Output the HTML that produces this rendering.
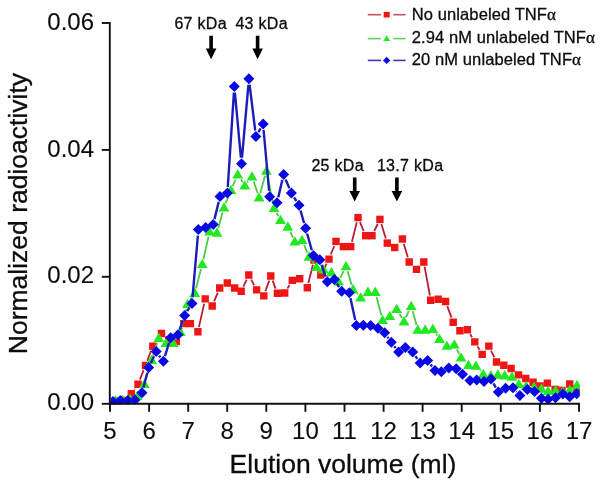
<!DOCTYPE html>
<html><head><meta charset="utf-8"><title>Elution profile</title><style>
html,body{margin:0;padding:0;background:#fff;width:601px;height:484px;overflow:hidden;}
svg{display:block;will-change:transform;}
text{font-family:"Liberation Sans",sans-serif;fill:#0c0c0c;stroke:#0c0c0c;stroke-width:0.3px;}
</style></head><body>
<svg width="601" height="484" viewBox="0 0 601 484">
<defs><clipPath id="pc"><rect x="110.6" y="0" width="469.2" height="404.6"/></clipPath>
</defs>
<rect width="601" height="484" fill="#fff"/>
<g clip-path="url(#pc)">
<path d="M134.5,389.1L134.8,388.7M139.9,379.6L143.6,370.1M147.3,360.9L151.0,350.8M155.9,341.7L158.4,338.0M178.2,336.9L181.9,328.2M198.9,327.1L204.2,303.6M214.1,301.4L217.8,292.6M243.3,286.7L246.7,279.6M251.2,279.6L254.2,285.3M265.4,291.3L269.2,280.6M272.6,280.6L275.6,288.6M287.4,288.4L289.6,285.0M303.5,283.2L303.5,283.2M308.4,283.0L312.9,264.7M316.1,264.6L318.7,270.4M323.2,270.4L326.6,263.7M330.8,254.5L334.2,246.0M351.9,241.9L356.8,222.3M360.0,222.2L363.7,231.1M374.2,231.1L377.7,224.0M381.4,224.1L385.8,238.4M403.8,243.7L407.8,257.3M424.6,266.7L429.9,295.5M447.3,306.1L451.5,317.6M470.2,334.3L472.0,337.3M477.5,346.5L479.5,349.8M491.0,350.7L494.3,357.4" fill="none" stroke="#b81e34" stroke-width="1.8" stroke-linecap="butt"/>
<g fill="#ee1515">
<polygon points="112.9,397.3 120.3,397.3 120.3,404.7 112.9,404.7"/>
<polygon points="120.2,396.8 127.6,396.8 127.6,404.2 120.2,404.2"/>
<polygon points="127.6,389.9 135.0,389.9 135.0,397.3 127.6,397.3"/>
<polygon points="134.3,380.5 141.7,380.5 141.7,387.9 134.3,387.9"/>
<polygon points="141.8,361.8 149.2,361.8 149.2,369.2 141.8,369.2"/>
<polygon points="149.1,342.5 156.5,342.5 156.5,349.9 149.1,349.9"/>
<polygon points="157.8,329.8 165.2,329.8 165.2,337.2 157.8,337.2"/>
<polygon points="165.1,336.3 172.5,336.3 172.5,343.7 165.1,343.7"/>
<polygon points="172.6,337.8 180.0,337.8 180.0,345.2 172.6,345.2"/>
<polygon points="180.1,319.9 187.5,319.9 187.5,327.3 180.1,327.3"/>
<polygon points="186.7,319.9 194.1,319.9 194.1,327.3 186.7,327.3"/>
<polygon points="194.2,328.1 201.6,328.1 201.6,335.5 194.2,335.5"/>
<polygon points="201.5,295.2 208.9,295.2 208.9,302.6 201.5,302.6"/>
<polygon points="208.5,302.3 215.9,302.3 215.9,309.7 208.5,309.7"/>
<polygon points="216.0,284.3 223.4,284.3 223.4,291.7 216.0,291.7"/>
<polygon points="223.6,279.3 231.0,279.3 231.0,286.7 223.6,286.7"/>
<polygon points="230.9,284.3 238.3,284.3 238.3,291.7 230.9,291.7"/>
<polygon points="237.5,287.6 244.9,287.6 244.9,295.0 237.5,295.0"/>
<polygon points="245.1,271.3 252.5,271.3 252.5,278.7 245.1,278.7"/>
<polygon points="252.9,286.2 260.3,286.2 260.3,293.6 252.9,293.6"/>
<polygon points="260.1,292.2 267.5,292.2 267.5,299.6 260.1,299.6"/>
<polygon points="267.1,272.3 274.5,272.3 274.5,279.7 267.1,279.7"/>
<polygon points="273.7,289.5 281.1,289.5 281.1,296.9 273.7,296.9"/>
<polygon points="281.0,289.3 288.4,289.3 288.4,296.7 281.0,296.7"/>
<polygon points="288.6,276.7 296.0,276.7 296.0,284.1 288.6,284.1"/>
<polygon points="296.0,275.0 303.4,275.0 303.4,282.4 296.0,282.4"/>
<polygon points="303.6,284.0 311.0,284.0 311.0,291.4 303.6,291.4"/>
<polygon points="310.3,256.3 317.7,256.3 317.7,263.7 310.3,263.7"/>
<polygon points="317.1,271.3 324.5,271.3 324.5,278.7 317.1,278.7"/>
<polygon points="325.3,255.4 332.7,255.4 332.7,262.8 325.3,262.8"/>
<polygon points="332.3,237.7 339.7,237.7 339.7,245.1 332.3,245.1"/>
<polygon points="339.7,242.9 347.1,242.9 347.1,250.3 339.7,250.3"/>
<polygon points="347.0,242.9 354.4,242.9 354.4,250.3 347.0,250.3"/>
<polygon points="354.3,213.9 361.7,213.9 361.7,221.3 354.3,221.3"/>
<polygon points="362.0,232.0 369.4,232.0 369.4,239.4 362.0,239.4"/>
<polygon points="368.3,232.0 375.7,232.0 375.7,239.4 368.3,239.4"/>
<polygon points="376.2,215.7 383.6,215.7 383.6,223.1 376.2,223.1"/>
<polygon points="383.6,239.4 391.0,239.4 391.0,246.8 383.6,246.8"/>
<polygon points="391.0,243.8 398.4,243.8 398.4,251.2 391.0,251.2"/>
<polygon points="398.7,235.3 406.1,235.3 406.1,242.7 398.7,242.7"/>
<polygon points="405.5,258.3 412.9,258.3 412.9,265.7 405.5,265.7"/>
<polygon points="412.8,265.7 420.2,265.7 420.2,273.1 412.8,273.1"/>
<polygon points="420.1,258.3 427.5,258.3 427.5,265.7 420.1,265.7"/>
<polygon points="427.0,296.5 434.4,296.5 434.4,303.9 427.0,303.9"/>
<polygon points="434.5,295.5 441.9,295.5 441.9,302.9 434.5,302.9"/>
<polygon points="441.9,297.8 449.3,297.8 449.3,305.2 441.9,305.2"/>
<polygon points="449.5,318.5 456.9,318.5 456.9,325.9 449.5,325.9"/>
<polygon points="456.2,327.1 463.6,327.1 463.6,334.5 456.2,334.5"/>
<polygon points="463.7,326.0 471.1,326.0 471.1,333.4 463.7,333.4"/>
<polygon points="471.1,338.2 478.5,338.2 478.5,345.6 471.1,345.6"/>
<polygon points="478.5,350.7 485.9,350.7 485.9,358.1 478.5,358.1"/>
<polygon points="485.1,342.4 492.5,342.4 492.5,349.8 485.1,349.8"/>
<polygon points="492.8,358.3 500.2,358.3 500.2,365.7 492.8,365.7"/>
<polygon points="500.1,361.5 507.5,361.5 507.5,368.9 500.1,368.9"/>
<polygon points="507.4,364.8 514.8,364.8 514.8,372.2 507.4,372.2"/>
<polygon points="514.8,371.2 522.2,371.2 522.2,378.6 514.8,378.6"/>
<polygon points="522.1,374.8 529.5,374.8 529.5,382.2 522.1,382.2"/>
<polygon points="529.4,378.5 536.8,378.5 536.8,385.9 529.4,385.9"/>
<polygon points="536.4,382.2 543.8,382.2 543.8,389.6 536.4,389.6"/>
<polygon points="543.7,379.4 551.1,379.4 551.1,386.8 543.7,386.8"/>
<polygon points="551.4,385.8 558.8,385.8 558.8,393.2 551.4,393.2"/>
<polygon points="558.3,386.7 565.7,386.7 565.7,394.1 558.3,394.1"/>
<polygon points="566.0,380.3 573.4,380.3 573.4,387.7 566.0,387.7"/>
<polygon points="573.3,385.3 580.7,385.3 580.7,392.7 573.3,392.7"/>
</g>
<path d="M139.3,392.6L141.4,389.0M145.7,379.6L150.1,365.1M153.0,355.7L157.1,343.1M175.4,339.7L177.2,336.9M181.6,327.4L186.3,309.1M189.8,300.7L191.6,297.8M196.0,288.3L201.0,269.1M203.4,259.2L208.5,236.6M218.3,228.1L222.6,212.6M225.6,203.4L229.0,195.0M232.7,186.1L235.5,179.5M240.9,179.4L242.6,182.2M247.2,182.5L248.1,181.4M253.7,181.5L257.7,193.2M260.3,192.9L265.0,175.8M267.4,175.8L273.0,203.1M276.7,213.0L278.5,216.4M290.2,231.6L293.0,237.7M304.1,245.0L307.3,252.6M312.5,261.5L314.2,263.8M335.3,277.3L336.2,278.5M340.4,277.7L343.6,271.2M347.6,271.3L351.7,284.9M357.6,294.1L358.1,294.7M376.6,297.0L381.4,315.4M399.6,314.0L401.9,317.8M405.8,317.5L408.8,311.0M412.6,311.1L416.5,325.1M436.1,333.8L437.3,335.7M456.9,349.5L459.1,353.8M465.8,362.3L465.9,362.4M480.2,370.5L480.8,371.2" fill="none" stroke="#46cc46" stroke-width="1.8" stroke-linecap="butt"/>
<g fill="#22e822">
<polygon points="115.6,395.2 121.0,404.6 110.2,404.6"/>
<polygon points="122.8,394.7 128.2,404.1 117.4,404.1"/>
<polygon points="130.0,393.7 135.4,403.1 124.6,403.1"/>
<polygon points="137.2,390.7 142.6,400.1 131.8,400.1"/>
<polygon points="144.4,378.7 149.8,388.1 139.0,388.1"/>
<polygon points="151.6,354.7 157.0,364.1 146.2,364.1"/>
<polygon points="158.8,332.7 164.2,342.1 153.4,342.1"/>
<polygon points="166.0,337.7 171.4,347.1 160.6,347.1"/>
<polygon points="173.2,337.7 178.6,347.1 167.8,347.1"/>
<polygon points="180.4,326.7 185.8,336.1 175.0,336.1"/>
<polygon points="187.6,298.7 193.0,308.1 182.2,308.1"/>
<polygon points="194.8,287.6 200.2,297.0 189.4,297.0"/>
<polygon points="202.3,258.7 207.7,268.1 196.9,268.1"/>
<polygon points="209.6,226.2 215.0,235.6 204.2,235.6"/>
<polygon points="217.0,227.3 222.4,236.7 211.6,236.7"/>
<polygon points="224.0,202.2 229.4,211.6 218.6,211.6"/>
<polygon points="231.0,184.7 236.4,194.1 225.6,194.1"/>
<polygon points="237.7,169.2 243.1,178.6 232.3,178.6"/>
<polygon points="244.8,180.2 250.2,189.6 239.4,189.6"/>
<polygon points="252.0,171.2 257.4,180.6 246.6,180.6"/>
<polygon points="259.1,192.2 264.5,201.6 253.7,201.6"/>
<polygon points="266.4,165.4 271.8,174.8 261.0,174.8"/>
<polygon points="274.0,202.7 279.4,212.1 268.6,212.1"/>
<polygon points="280.5,214.7 285.9,224.1 275.1,224.1"/>
<polygon points="287.8,221.3 293.2,230.7 282.4,230.7"/>
<polygon points="294.8,236.2 300.2,245.6 289.4,245.6"/>
<polygon points="302.0,234.7 307.4,244.1 296.6,244.1"/>
<polygon points="309.0,251.3 314.4,260.7 303.6,260.7"/>
<polygon points="316.5,261.7 321.9,271.1 311.1,271.1"/>
<polygon points="323.5,264.2 328.9,273.6 318.1,273.6"/>
<polygon points="331.4,267.1 336.8,276.5 326.0,276.5"/>
<polygon points="338.6,276.2 344.0,285.6 333.2,285.6"/>
<polygon points="346.0,260.9 351.4,270.3 340.6,270.3"/>
<polygon points="353.1,284.0 358.5,293.4 347.7,293.4"/>
<polygon points="360.7,292.2 366.1,301.6 355.3,301.6"/>
<polygon points="368.0,286.6 373.4,296.0 362.6,296.0"/>
<polygon points="375.3,286.6 380.7,296.0 369.9,296.0"/>
<polygon points="382.6,314.7 388.0,324.1 377.2,324.1"/>
<polygon points="389.8,310.7 395.2,320.1 384.4,320.1"/>
<polygon points="396.7,303.7 402.1,313.1 391.3,313.1"/>
<polygon points="404.0,316.0 409.4,325.4 398.6,325.4"/>
<polygon points="411.2,300.7 416.6,310.1 405.8,310.1"/>
<polygon points="417.8,324.3 423.2,333.7 412.4,333.7"/>
<polygon points="425.2,324.3 430.6,333.7 419.8,333.7"/>
<polygon points="432.8,323.6 438.2,333.0 427.4,333.0"/>
<polygon points="439.5,333.7 444.9,343.1 434.1,343.1"/>
<polygon points="446.9,340.4 452.3,349.8 441.5,349.8"/>
<polygon points="454.3,339.2 459.7,348.6 448.9,348.6"/>
<polygon points="461.0,352.2 466.4,361.6 455.6,361.6"/>
<polygon points="468.5,359.7 473.9,369.1 463.1,369.1"/>
<polygon points="475.9,360.4 481.3,369.8 470.5,369.8"/>
<polygon points="483.3,368.7 488.7,378.1 477.9,378.1"/>
<polygon points="490.8,370.1 496.2,379.5 485.4,379.5"/>
<polygon points="497.8,369.3 503.2,378.7 492.4,378.7"/>
<polygon points="504.7,370.1 510.1,379.5 499.3,379.5"/>
<polygon points="512.0,371.4 517.4,380.8 506.6,380.8"/>
<polygon points="518.8,378.7 524.2,388.1 513.4,388.1"/>
<polygon points="526.2,380.7 531.6,390.1 520.8,390.1"/>
<polygon points="534.0,381.5 539.4,390.9 528.6,390.9"/>
<polygon points="541.4,383.3 546.8,392.7 536.0,392.7"/>
<polygon points="548.1,385.7 553.5,395.1 542.7,395.1"/>
<polygon points="555.5,385.0 560.9,394.4 550.1,394.4"/>
<polygon points="562.8,386.2 568.2,395.6 557.4,395.6"/>
<polygon points="569.7,384.7 575.1,394.1 564.3,394.1"/>
<polygon points="577.0,379.7 582.4,389.1 571.6,389.1"/>
</g>
<path d="M138.4,396.5L138.6,396.3M143.4,387.5L147.3,372.8M150.9,362.9L154.0,356.2M159.1,355.6L160.5,357.3M165.0,356.1L169.0,342.9M179.7,329.7L182.9,320.5M187.2,311.1L189.4,307.7M192.5,297.3L197.9,235.6M214.5,219.1L218.7,201.9M227.8,186.8L233.9,92.7M234.9,92.5L240.9,157.7M242.0,157.6L248.4,84.9M249.6,84.7L255.2,130.5M258.4,132.1L260.6,128.3M263.6,130.0L269.1,190.8M278.3,197.3L282.3,180.0M285.6,179.4L289.4,188.2M294.0,197.3L296.4,201.0M300.5,210.5L304.1,223.1M307.1,233.5L311.8,250.3M321.5,264.8L325.6,276.7M337.0,283.7L339.1,287.1M350.5,298.2L355.2,320.1M387.5,336.8L388.4,338.3M394.3,346.2L395.6,348.1M415.5,356.1L417.3,358.9M430.5,364.5L432.1,366.6M493.5,383.4L495.8,387.6M516.2,391.4L516.7,391.8" fill="none" stroke="#1c1cb8" stroke-width="2.4" stroke-linecap="butt"/>
<g fill="#0808e4">
<polygon points="113.0,396.0 118.5,401.5 113.0,407.0 107.5,401.5"/>
<polygon points="120.4,395.0 125.9,400.5 120.4,406.0 114.9,400.5"/>
<polygon points="127.8,395.0 133.3,400.5 127.8,406.0 122.3,400.5"/>
<polygon points="135.0,394.5 140.5,400.0 135.0,405.5 129.5,400.0"/>
<polygon points="142.0,387.3 147.5,392.8 142.0,398.3 136.5,392.8"/>
<polygon points="148.7,362.0 154.2,367.5 148.7,373.0 143.2,367.5"/>
<polygon points="156.2,346.1 161.7,351.6 156.2,357.1 150.7,351.6"/>
<polygon points="163.4,355.8 168.9,361.3 163.4,366.8 157.9,361.3"/>
<polygon points="170.6,332.2 176.1,337.7 170.6,343.2 165.1,337.7"/>
<polygon points="178.0,329.3 183.5,334.8 178.0,340.3 172.5,334.8"/>
<polygon points="184.6,309.9 190.1,315.4 184.6,320.9 179.1,315.4"/>
<polygon points="192.0,297.9 197.5,303.4 192.0,308.9 186.5,303.4"/>
<polygon points="198.4,224.0 203.9,229.5 198.4,235.0 192.9,229.5"/>
<polygon points="205.7,222.0 211.2,227.5 205.7,233.0 200.2,227.5"/>
<polygon points="213.2,219.0 218.7,224.5 213.2,230.0 207.7,224.5"/>
<polygon points="220.0,191.0 225.5,196.5 220.0,202.0 214.5,196.5"/>
<polygon points="227.4,187.5 232.9,193.0 227.4,198.5 221.9,193.0"/>
<polygon points="234.3,81.0 239.8,86.5 234.3,92.0 228.8,86.5"/>
<polygon points="241.5,158.2 247.0,163.7 241.5,169.2 236.0,163.7"/>
<polygon points="248.9,73.3 254.4,78.8 248.9,84.3 243.4,78.8"/>
<polygon points="255.9,130.9 261.4,136.4 255.9,141.9 250.4,136.4"/>
<polygon points="263.1,118.5 268.6,124.0 263.1,129.5 257.6,124.0"/>
<polygon points="269.6,191.3 275.1,196.8 269.6,202.3 264.1,196.8"/>
<polygon points="277.0,197.2 282.5,202.7 277.0,208.2 271.5,202.7"/>
<polygon points="283.6,169.1 289.1,174.6 283.6,180.1 278.1,174.6"/>
<polygon points="291.4,187.5 296.9,193.0 291.4,198.5 285.9,193.0"/>
<polygon points="299.0,199.8 304.5,205.3 299.0,210.8 293.5,205.3"/>
<polygon points="305.6,222.8 311.1,228.3 305.6,233.8 300.1,228.3"/>
<polygon points="313.3,250.0 318.8,255.5 313.3,261.0 307.8,255.5"/>
<polygon points="319.8,254.2 325.3,259.7 319.8,265.2 314.3,259.7"/>
<polygon points="327.3,276.3 332.8,281.8 327.3,287.3 321.8,281.8"/>
<polygon points="334.4,274.0 339.9,279.5 334.4,285.0 328.9,279.5"/>
<polygon points="341.7,285.8 347.2,291.3 341.7,296.8 336.2,291.3"/>
<polygon points="349.3,287.2 354.8,292.7 349.3,298.2 343.8,292.7"/>
<polygon points="356.4,320.1 361.9,325.6 356.4,331.1 350.9,325.6"/>
<polygon points="363.3,319.7 368.8,325.2 363.3,330.7 357.8,325.2"/>
<polygon points="370.6,320.1 376.1,325.6 370.6,331.1 365.1,325.6"/>
<polygon points="377.9,322.8 383.4,328.3 377.9,333.8 372.4,328.3"/>
<polygon points="384.6,327.3 390.1,332.8 384.6,338.3 379.1,332.8"/>
<polygon points="391.3,336.8 396.8,342.3 391.3,347.8 385.8,342.3"/>
<polygon points="398.6,346.5 404.1,352.0 398.6,357.5 393.1,352.0"/>
<polygon points="405.3,342.0 410.8,347.5 405.3,353.0 399.8,347.5"/>
<polygon points="412.7,346.5 418.2,352.0 412.7,357.5 407.2,352.0"/>
<polygon points="420.1,357.5 425.6,363.0 420.1,368.5 414.6,363.0"/>
<polygon points="427.6,355.0 433.1,360.5 427.6,366.0 422.1,360.5"/>
<polygon points="435.0,365.1 440.5,370.6 435.0,376.1 429.5,370.6"/>
<polygon points="441.3,366.2 446.8,371.7 441.3,377.2 435.8,371.7"/>
<polygon points="448.8,362.5 454.3,368.0 448.8,373.5 443.3,368.0"/>
<polygon points="456.2,363.2 461.7,368.7 456.2,374.2 450.7,368.7"/>
<polygon points="462.5,368.8 468.0,374.3 462.5,379.8 457.0,374.3"/>
<polygon points="470.0,375.1 475.5,380.6 470.0,386.1 464.5,380.6"/>
<polygon points="476.7,374.5 482.2,380.0 476.7,385.5 471.2,380.0"/>
<polygon points="484.0,376.0 489.5,381.5 484.0,387.0 478.5,381.5"/>
<polygon points="491.0,373.5 496.5,379.0 491.0,384.5 485.5,379.0"/>
<polygon points="498.3,386.5 503.8,392.0 498.3,397.5 492.8,392.0"/>
<polygon points="505.6,382.7 511.1,388.2 505.6,393.7 500.1,388.2"/>
<polygon points="513.0,382.2 518.5,387.7 513.0,393.2 507.5,387.7"/>
<polygon points="519.9,390.0 525.4,395.5 519.9,401.0 514.4,395.5"/>
<polygon points="527.3,384.0 532.8,389.5 527.3,395.0 521.8,389.5"/>
<polygon points="534.6,385.9 540.1,391.4 534.6,396.9 529.1,391.4"/>
<polygon points="541.4,392.8 546.9,398.3 541.4,403.8 535.9,398.3"/>
<polygon points="548.1,393.8 553.6,399.3 548.1,404.8 542.6,399.3"/>
<polygon points="555.5,392.3 561.0,397.8 555.5,403.3 550.0,397.8"/>
<polygon points="562.8,388.6 568.3,394.1 562.8,399.6 557.3,394.1"/>
<polygon points="569.7,391.3 575.2,396.8 569.7,402.3 564.2,396.8"/>
<polygon points="576.7,388.2 582.2,393.7 576.7,399.2 571.2,393.7"/>
</g>
</g>
<g stroke="#111" stroke-width="1.9" fill="none">
<line x1="109.8" y1="22.1" x2="109.8" y2="404.7"/>
<line x1="108.89999999999999" y1="403.8" x2="579.9" y2="403.8"/>
<line x1="101.8" y1="23.0" x2="109.8" y2="23.0"/>
<line x1="101.8" y1="149.9" x2="109.8" y2="149.9"/>
<line x1="101.8" y1="276.8" x2="109.8" y2="276.8"/>
<line x1="101.8" y1="403.8" x2="109.8" y2="403.8"/>
<line x1="110.0" y1="403.8" x2="110.0" y2="411.8"/>
<line x1="149.1" y1="403.8" x2="149.1" y2="411.8"/>
<line x1="188.2" y1="403.8" x2="188.2" y2="411.8"/>
<line x1="227.2" y1="403.8" x2="227.2" y2="411.8"/>
<line x1="266.3" y1="403.8" x2="266.3" y2="411.8"/>
<line x1="305.4" y1="403.8" x2="305.4" y2="411.8"/>
<line x1="344.5" y1="403.8" x2="344.5" y2="411.8"/>
<line x1="383.6" y1="403.8" x2="383.6" y2="411.8"/>
<line x1="422.6" y1="403.8" x2="422.6" y2="411.8"/>
<line x1="461.7" y1="403.8" x2="461.7" y2="411.8"/>
<line x1="500.8" y1="403.8" x2="500.8" y2="411.8"/>
<line x1="539.9" y1="403.8" x2="539.9" y2="411.8"/>
<line x1="579.0" y1="403.8" x2="579.0" y2="411.8"/>
</g>
<text x="94" y="29.6" font-size="24" text-anchor="end" style="stroke-width:0.1px">0.06</text>
<text x="94" y="156.5" font-size="24" text-anchor="end" style="stroke-width:0.1px">0.04</text>
<text x="94" y="283.4" font-size="24" text-anchor="end" style="stroke-width:0.1px">0.02</text>
<text x="94" y="410.4" font-size="24" text-anchor="end" style="stroke-width:0.1px">0.00</text>
<text x="110.0" y="439" font-size="24" text-anchor="middle" style="stroke-width:0.1px">5</text>
<text x="149.1" y="439" font-size="24" text-anchor="middle" style="stroke-width:0.1px">6</text>
<text x="188.2" y="439" font-size="24" text-anchor="middle" style="stroke-width:0.1px">7</text>
<text x="227.2" y="439" font-size="24" text-anchor="middle" style="stroke-width:0.1px">8</text>
<text x="266.3" y="439" font-size="24" text-anchor="middle" style="stroke-width:0.1px">9</text>
<text x="305.4" y="439" font-size="24" text-anchor="middle" style="stroke-width:0.1px">10</text>
<text x="344.5" y="439" font-size="24" text-anchor="middle" style="stroke-width:0.1px">11</text>
<text x="383.6" y="439" font-size="24" text-anchor="middle" style="stroke-width:0.1px">12</text>
<text x="422.6" y="439" font-size="24" text-anchor="middle" style="stroke-width:0.1px">13</text>
<text x="461.7" y="439" font-size="24" text-anchor="middle" style="stroke-width:0.1px">14</text>
<text x="500.8" y="439" font-size="24" text-anchor="middle" style="stroke-width:0.1px">15</text>
<text x="539.9" y="439" font-size="24" text-anchor="middle" style="stroke-width:0.1px">16</text>
<text x="579.0" y="439" font-size="24" text-anchor="middle" style="stroke-width:0.1px">17</text>
<text x="229.6" y="473.4" font-size="26.5">Elution volume (ml)</text>
<text transform="translate(27.2,354.2) rotate(-90)" font-size="26.5">Normalized radioactivity</text>
<g font-size="16" letter-spacing="0.3">
<text x="174.4" y="28.6">67 kDa</text>
<text x="235.4" y="28.6">43 kDa</text>
<text x="311.4" y="171.2">25 kDa</text>
<text x="376.9" y="171.2">13.7 kDa</text>
</g>
<path d="M209.3,35.8 L212.9,35.8 L212.9,48.6 L216.4,48.6 L211.1,59.3 L205.8,48.6 L209.3,48.6 Z" fill="#000"/>
<path d="M255.8,35.8 L259.4,35.8 L259.4,48.6 L262.9,48.6 L257.6,59.3 L252.3,48.6 L255.8,48.6 Z" fill="#000"/>
<path d="M352.9,177.6 L356.5,177.6 L356.5,191.0 L360.0,191.0 L354.7,201.4 L349.4,191.0 L352.9,191.0 Z" fill="#000"/>
<path d="M395.1,177.6 L398.7,177.6 L398.7,191.0 L402.2,191.0 L396.9,201.4 L391.6,191.0 L395.1,191.0 Z" fill="#000"/>
<line x1="367.8" y1="14.7" x2="381" y2="14.7" stroke="#c8505a" stroke-width="1.6"/>
<line x1="393.3" y1="14.7" x2="405.6" y2="14.7" stroke="#c8505a" stroke-width="1.6"/>
<rect x="383.7" y="11.9" width="6" height="5.6" fill="#ee1515"/>
<text x="411.8" y="19.7" font-size="16.5" letter-spacing="0.1">No unlabeled TNF<tspan font-family="Liberation Serif" font-size="17">α</tspan></text>
<line x1="367.8" y1="38.6" x2="381" y2="38.6" stroke="#60d060" stroke-width="1.6"/>
<line x1="393.3" y1="38.6" x2="405.6" y2="38.6" stroke="#60d060" stroke-width="1.6"/>
<polygon points="386.7,35.2 390.2,41.0 383.2,41.0" fill="#22e822"/>
<text x="411.8" y="42.9" font-size="16.5" letter-spacing="0.1">2.94 nM unlabeled TNF<tspan font-family="Liberation Serif" font-size="17">α</tspan></text>
<line x1="367.8" y1="60.4" x2="381" y2="60.4" stroke="#3a3ab4" stroke-width="1.6"/>
<line x1="393.3" y1="60.4" x2="405.6" y2="60.4" stroke="#3a3ab4" stroke-width="1.6"/>
<polygon points="386.7,56.7 390.4,60.4 386.7,64.1 383.0,60.4" fill="#0a0af0"/>
<text x="411.8" y="65.4" font-size="16.5" letter-spacing="0.1">20 nM unlabeled TNF<tspan font-family="Liberation Serif" font-size="17">α</tspan></text>
</svg></body></html>
